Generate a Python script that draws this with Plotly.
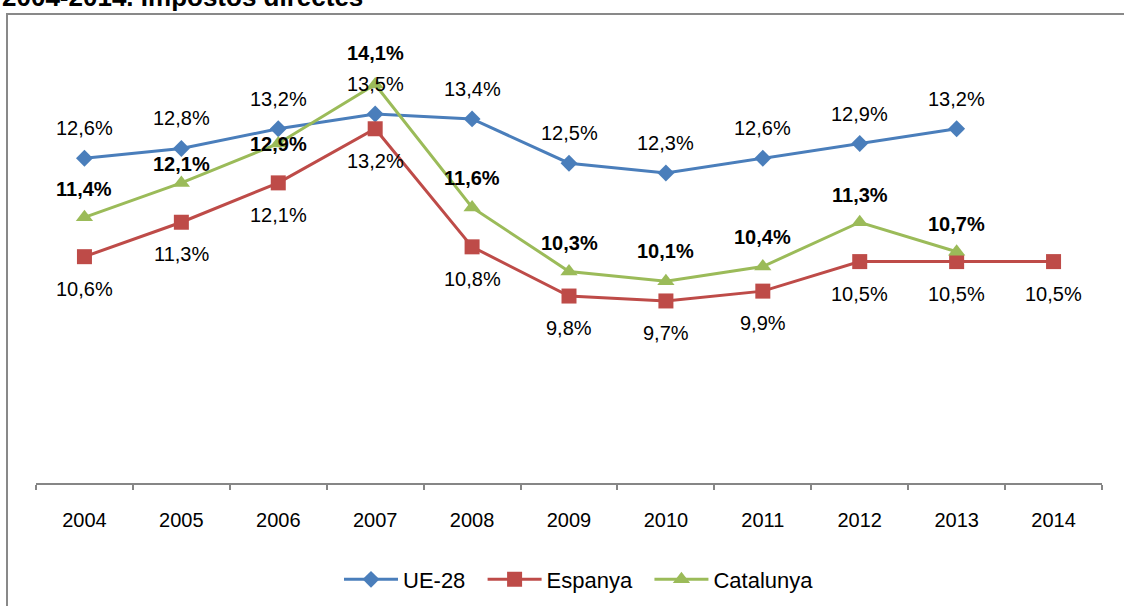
import plotly.graph_objects as go

years = ["2004", "2005", "2006", "2007", "2008", "2009", "2010", "2011", "2012", "2013", "2014"]
ue28 = [12.6, 12.8, 13.2, 13.5, 13.4, 12.5, 12.3, 12.6, 12.9, 13.2, None]
espanya = [10.6, 11.3, 12.1, 13.2, 10.8, 9.8, 9.7, 9.9, 10.5, 10.5, 10.5]
catalunya = [11.4, 12.1, 12.9, 14.1, 11.6, 10.3, 10.1, 10.4, 11.3, 10.7, None]

# label offsets (px) for the Catalunya labels, as placed in the original chart
cat_label_shift = [28, 19, 0, 31, 29, 28, 30, 30, 27, 28, 28]

FONT = "Liberation Sans, Arial, sans-serif"
C_UE = "#4A7EBB"
C_ES = "#BE4B48"
C_CA = "#9BBB59"

fig = go.Figure()
fig.add_trace(go.Scatter(x=years, y=ue28, name="UE-28\u00a0\u00a0", mode="lines+markers",
                         line=dict(color=C_UE, width=3),
                         marker=dict(symbol="diamond", size=13, color=C_UE)))
fig.add_trace(go.Scatter(x=years, y=espanya, name="Espanya\u00a0\u00a0", mode="lines+markers",
                         line=dict(color=C_ES, width=3),
                         marker=dict(symbol="square", size=15, color=C_ES)))
fig.add_trace(go.Scatter(x=years, y=catalunya, name="Catalunya", mode="lines+markers",
                         line=dict(color=C_CA, width=3),
                         marker=dict(symbol="triangle-up", size=15, color=C_CA)))

def fmt(v):
    return f"{v:.1f}".replace(".", ",") + "%"

annotations = []
for i, v in enumerate(ue28):
    if v is not None:
        annotations.append(dict(x=i, y=v, text=fmt(v), showarrow=False, yshift=30,
                                font=dict(family=FONT, size=20, color="#000")))
for i, v in enumerate(espanya):
    if v is not None:
        annotations.append(dict(x=i, y=v, text=fmt(v), showarrow=False, yshift=-32,
                                font=dict(family=FONT, size=20, color="#000")))
for i, v in enumerate(catalunya):
    if v is not None:
        annotations.append(dict(x=i, y=v, text="<b>" + fmt(v) + "</b>", showarrow=False,
                                yshift=cat_label_shift[i],
                                font=dict(family=FONT, size=20, color="#000")))

PL, PR, PT, PB = 36, 22, 19, 123
pw = 1124 - PL - PR
ph = 606 - PT - PB
AX = 606 - PB  # pixel row of the x axis

annotations.append(dict(xref="paper", yref="paper", x=(0 - PL) / pw, y=1.0, xanchor="left",
                        yanchor="bottom", yshift=5,
                        text="<b>2004-2014. Impostos directes</b>", showarrow=False,
                        font=dict(family=FONT, size=26, color="#000")))

shapes = [dict(type="rect", xref="paper", yref="paper",
               x0=(7 - PL) / pw, x1=(1140 - PL) / pw,
               y0=(AX - 640) / ph, y1=(AX - 14) / ph,
               line=dict(color="#898989", width=2), fillcolor="rgba(0,0,0,0)", layer="below")]

fig.update_layout(
    width=1124, height=606,
    margin=dict(l=PL, r=PR, t=PT, b=PB, autoexpand=False),
    paper_bgcolor="white", plot_bgcolor="white",
    font=dict(family=FONT, size=20, color="#000"),
    showlegend=True,
    legend=dict(orientation="h", xanchor="center", x=(579 - PL) / pw,
                yref="container", yanchor="bottom", y=0.009, itemwidth=54,
                font=dict(family=FONT, size=22, color="#000"), bgcolor="rgba(0,0,0,0)"),
    xaxis=dict(type="category", range=[-0.5, 10.5], showgrid=False, zeroline=False,
               showline=True, linecolor="#868686", linewidth=2,
               ticks="outside", tickson="boundaries", ticklen=5, tickwidth=2, tickcolor="#868686",
               ticklabelstandoff=18,
               tickfont=dict(family=FONT, size=20, color="#000")),
    yaxis=dict(range=[6, 6 + ph / 49.2], showgrid=False, zeroline=False, showline=False,
               showticklabels=False, ticks=""),
    annotations=annotations,
    shapes=shapes,
)

fig.write_html("out.html", config={"displayModeBar": False},
               post_script="document.body.style.margin='0';")
